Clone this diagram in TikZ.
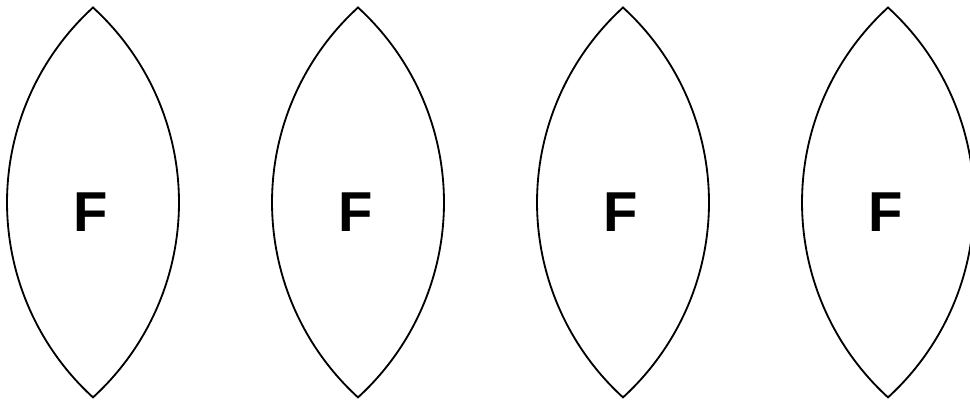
\documentclass[tikz,border=0pt]{standalone}
\usepackage{fontspec}
\setmainfont{Liberation Sans}
\usetikzlibrary{positioning}

\begin{document}
\begin{tikzpicture}[
    x=0.025cm, y=0.025cm,
    lens/.style={draw, line width=1.3pt, line join=miter},
    letter/.style={font=\fontsize{40}{40}\selectfont\bfseries, inner sep=0pt}
]
    \useasboundingbox (0,0) rectangle (970,404);

    % four lenses, one letter in each
    \foreach \i/\cx in {1/93, 2/358, 3/623, 4/888} {
        \draw [lens] (\cx,396.5) arc[start angle=47.6, end angle=-47.6, radius=264]
            arc[start angle=227.6, end angle=132.4, radius=264] -- cycle;
        \node [letter] (f\i) at (\cx-2,192) {F};
    }

\end{tikzpicture}
\end{document}
